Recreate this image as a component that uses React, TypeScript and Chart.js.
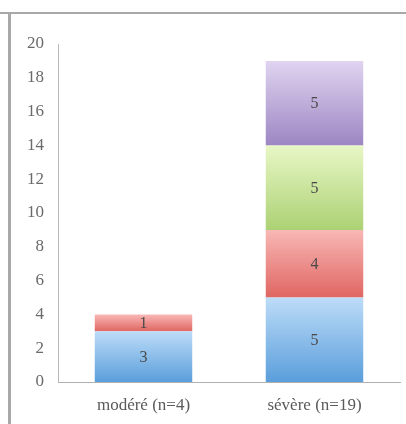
import React, { useEffect, useRef } from "react";
import { Chart, registerables } from "chart.js";

Chart.register(...registerables);

const categories = ["modéré (n=4)", "sévère (n=19)"];
const blueValues = [3, 5];
const redValues = [1, 4];
const greenValues = [0, 5];
const purpleValues = [0, 5];
const yTicks = [0, 2, 4, 6, 8, 10, 12, 14, 16, 18, 20];

const seriesList = [
  { label: "bleu", data: blueValues, top: "#bddcf8", bottom: "#5a9edb" },
  { label: "rouge", data: redValues, top: "#f8b8b5", bottom: "#e06662" },
  { label: "vert", data: greenValues, top: "#e8f7c6", bottom: "#acd174" },
  { label: "violet", data: purpleValues, top: "#e0d4f0", bottom: "#9d86c3" },
];

const FONT = "'Liberation Serif', 'DejaVu Serif', serif";

const segmentLabels = {
  id: "segmentLabels",
  afterDatasetsDraw(chart: any) {
    const ctx = chart.ctx;
    ctx.save();
    ctx.font = `16px ${FONT}`;
    ctx.fillStyle = "#4a4a4a";
    ctx.textAlign = "center";
    ctx.textBaseline = "middle";
    chart.data.datasets.forEach((ds: any, di: number) => {
      const meta = chart.getDatasetMeta(di);
      meta.data.forEach((el: any, i: number) => {
        const v = ds.data[i];
        if (!v) return;
        const mid = (el.y + el.base) / 2;
        ctx.fillText(String(v), el.x, mid + 1);
      });
    });
    ctx.restore();
  },
};

export default function App() {
  const ref = useRef<HTMLCanvasElement | null>(null);

  useEffect(() => {
    if (!ref.current) return;
    const chart = new Chart(ref.current, {
      type: "bar",
      data: {
        labels: categories,
        datasets: seriesList.map((s, si) => ({
          label: s.label,
          data: s.data,
          borderWidth: 0,
          barPercentage: 0.57,
          categoryPercentage: 1,
          backgroundColor: (c: any) => {
            const chartObj = c.chart;
            const yScale = chartObj.scales?.y;
            if (!yScale || c.dataIndex === undefined) return s.bottom;
            let start = 0;
            for (let k = 0; k < si; k++) start += seriesList[k].data[c.dataIndex] || 0;
            const end = start + (s.data[c.dataIndex] || 0);
            const yTop = yScale.getPixelForValue(end);
            const yBot = yScale.getPixelForValue(start);
            if (!isFinite(yTop) || !isFinite(yBot) || yTop === yBot) return s.bottom;
            const g = chartObj.ctx.createLinearGradient(0, yTop, 0, yBot);
            g.addColorStop(0, s.top);
            g.addColorStop(1, s.bottom);
            return g;
          },
        })),
      },
      options: {
        animation: false,
        responsive: false,
        maintainAspectRatio: false,
        layout: { padding: { top: 44, right: 6, left: 0, bottom: 0 } },
        plugins: { legend: { display: false }, tooltip: { enabled: false } },
        scales: {
          x: {
            stacked: true,
            grid: { display: false, drawTicks: false },
            border: { display: true, color: "#b0b0b0", width: 1 },
            ticks: { color: "#5a5a5a", font: { family: FONT, size: 17 }, padding: 13 },
            afterFit: (s: any) => {
              s.height = 42;
            },
          },
          y: {
            stacked: true,
            min: 0,
            max: 20,
            afterBuildTicks: (s: any) => {
              s.ticks = yTicks.map((v) => ({ value: v }));
            },
            grid: { display: false, drawTicks: false },
            border: { display: true, color: "#b8b8b8", width: 1 },
            ticks: { color: "#6a6a6a", font: { family: FONT, size: 17 }, padding: 14 },
            afterFit: (s: any) => {
              s.width = 58;
            },
          },
        },
      },
      plugins: [segmentLabels],
    } as any);
    return () => chart.destroy();
  }, []);

  return (
    <div style={{ position: "fixed", left: 0, top: 0, width: 406, height: 424, background: "#fff", overflow: "hidden" }}>
      <canvas ref={ref} width={406} height={424} style={{ position: "absolute", left: 0, top: 0 }} />
      <div style={{ position: "absolute", left: 0, top: 12, width: 406, height: 2, background: "#a8a8a8" }} />
      <div style={{ position: "absolute", left: 8, top: 12, width: 3, height: 412, background: "#a8a8a8" }} />
    </div>
  );
}
